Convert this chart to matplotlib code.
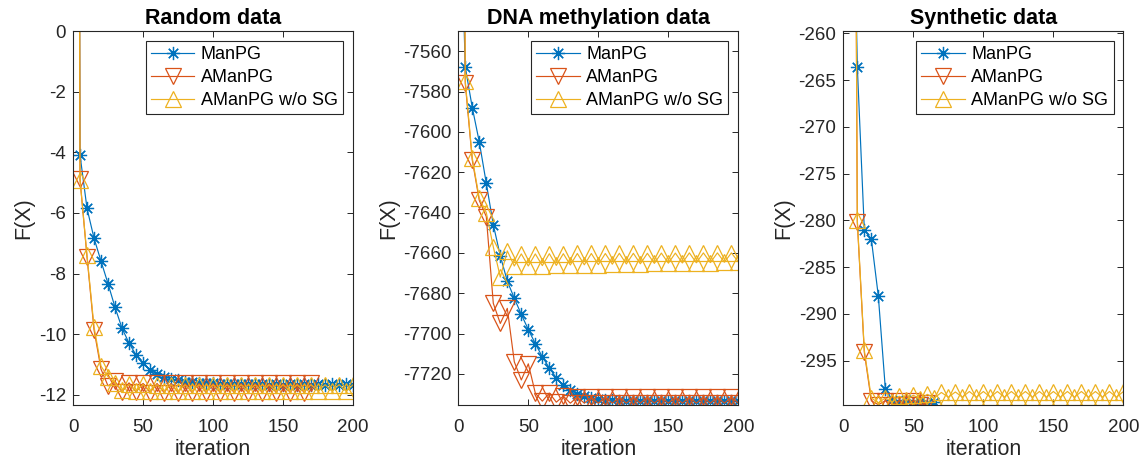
import matplotlib
matplotlib.use("Agg")
import matplotlib.pyplot as plt

# ── Data (one point every 5 iterations) ───────────────────────────────────────
ITER = [0, 5, 10, 15, 20, 25, 30, 35, 40, 45, 50, 55, 60, 65, 70, 75, 80, 85, 90, 95,
        100, 105, 110, 115, 120, 125, 130, 135, 140, 145, 150, 155, 160, 165, 170, 175,
        180, 185, 190, 195, 200]

SERIES = ["ManPG", "AManPG", "AManPG w/o SG"]
TITLES = ["Random data", "DNA methylation data", "Synthetic data"]

# Random data
rand_manpg = [80, -4.09, -5.85, -6.83, -7.59, -8.33, -9.11, -9.80, -10.29, -10.68,
              -10.95, -11.17, -11.31, -11.40, -11.47, -11.52, -11.56, -11.58, -11.60, -11.61,
              -11.62, -11.63, -11.63, -11.64, -11.64, -11.65, -11.64, -11.65, -11.66, -11.65,
              -11.66, -11.65, -11.66, -11.65, -11.66, -11.65, -11.66, -11.65, -11.66, -11.65,
              -11.66]
rand_amanpg = [100, -4.89, -7.45, -9.85, -11.15, -11.70, -11.55, -11.90, -11.60, -11.90,
               -11.62, -11.92, -11.62, -11.92, -11.62, -11.92, -11.62, -11.92, -11.62, -11.92,
               -11.62, -11.92, -11.62, -11.92, -11.62, -11.92, -11.62, -11.92, -11.62, -11.92,
               -11.62, -11.92, -11.62, -11.92, -11.62]
rand_nosg = [100, -4.90, -7.40, -9.75, -11.05, -11.40, -11.60, -11.85, -11.65, -11.87,
             -11.65, -11.87, -11.66, -11.87, -11.66, -11.88, -11.66, -11.88, -11.66, -11.88,
             -11.66, -11.88, -11.66, -11.88, -11.66, -11.88, -11.66, -11.88, -11.66, -11.88,
             -11.66, -11.88, -11.66, -11.88, -11.66, -11.88, -11.66, -11.88, -11.66, -11.88,
             -11.66]

# DNA methylation data
dna_manpg = [-7450, -7568, -7588, -7605, -7625.5, -7646, -7661.5, -7674, -7682.5, -7690.5,
             -7698, -7705, -7711.5, -7717, -7722, -7725.5, -7728, -7729.8, -7731, -7731.8,
             -7732.4, -7732.8, -7733.1, -7733.3, -7733.5, -7733.5, -7733.5, -7733.5, -7733.5, -7733.5,
             -7733.5, -7733.5, -7733.5, -7733.5, -7733.5, -7733.5, -7733.5, -7733.5, -7733.5, -7733.5,
             -7733.5]
dna_amanpg = [-7000, -7576, -7614, -7634, -7642, -7685, -7695, -7687.5, -7714, -7723,
              -7715, -7729.5, -7733.5, -7729.5, -7734, -7731, -7734.5, -7731.5, -7734.5, -7731.5,
              -7734.5, -7731.5, -7734.5, -7731.5, -7734.5, -7731.5, -7734.5, -7731.5, -7734.5, -7731.5,
              -7734.5, -7731.5, -7734.5, -7731.5, -7734.5, -7731.5, -7734.5, -7731.5, -7734.5, -7731.5,
              -7734.5]
dna_nosg = [-7000, -7575, -7613, -7633, -7640, -7657, -7672, -7659, -7666.5, -7660.5,
            -7666.5, -7660.5, -7666.3, -7660.4, -7666.2, -7660.4, -7666, -7660.3, -7665.9, -7660.3,
            -7665.8, -7660.3, -7665.6, -7660.2, -7665.5, -7660.2, -7665.4, -7660.2, -7665.2, -7660.1,
            -7665.1, -7660.1, -7665, -7660, -7664.9, -7660, -7664.8, -7660, -7664.6, -7660,
            -7664.5]

# Synthetic data (ManPG / AManPG stop early)
syn_manpg = [-150, -225, -263.6, -281.0, -282.0, -288.1, -298.0, -299.2, -299.5, -299.2,
             -299.5, -299.3, -299.5, -299.4]
syn_amanpg = [-100, -134, -280.2, -294.1, -299.3, -299.7, -299.3, -299.7, -299.3, -299.7,
              -299.3, -299.7, -299.5]
syn_nosg = [-100, -134, -280.0, -293.9, -299.0, -299.5, -299.0, -299.4, -298.8, -299.2,
            -298.7, -299.1, -298.6, -299.0, -298.4, -298.9, -298.35, -298.9, -298.3, -298.9,
            -298.3, -298.9, -298.3, -298.9, -298.3, -298.9, -298.3, -298.9, -298.3, -298.9,
            -298.3, -298.9, -298.3, -298.9, -298.3, -298.9, -298.3, -298.9, -298.3, -298.9,
            -298.3]

PANELS = [
    (rand_manpg, rand_amanpg, rand_nosg),
    (dna_manpg, dna_amanpg, dna_nosg),
    (syn_manpg, syn_amanpg, syn_nosg),
]
YLIMS = [(-12.33, 0), (-7735.4, -7550), (-299.74, -259.75)]
YTICKS = [
    [-12, -10, -8, -6, -4, -2, 0],
    [-7720, -7700, -7680, -7660, -7640, -7620, -7600, -7580, -7560],
    [-295, -290, -285, -280, -275, -270, -265, -260],
]
XTICKS = [0, 50, 100, 150, 200]

# ── Style (MATLAB look) ────────────────────────────────────────────────────────
plt.rcParams["font.family"] = ["Liberation Sans", "DejaVu Sans"]
plt.rcParams["axes.unicode_minus"] = False
COLORS = ["#0072BD", "#D95319", "#EDB120"]
MARKERS = [(8, 2, 0), "v", "^"]
MSIZES = [9.5, 11.5, 11.5]
AX_COLOR = "#262626"

fig = plt.figure(figsize=(11.48, 4.62), dpi=100)
LEFTS = [0.0636, 0.3992, 0.7346]
WIDTH = 0.2440

for i, (data, title) in enumerate(zip(PANELS, TITLES)):
    ax = fig.add_axes([LEFTS[i], 0.1234, WIDTH, 0.8095])
    for vals, name, c, m, ms in zip(data, SERIES, COLORS, MARKERS, MSIZES):
        ax.plot(ITER[:len(vals)], vals, color=c, lw=0.85, marker=m, ms=ms,
                mfc="none", mec=c, mew=0.9, label=name)

    ax.set_xlim(0, 200)
    ax.set_ylim(*YLIMS[i])
    ax.set_xticks(XTICKS)
    ax.set_yticks(YTICKS[i])
    ax.set_title(title, fontsize=15.5, fontweight="bold", pad=5)
    ax.set_xlabel("iteration", fontsize=15.5, color=AX_COLOR, labelpad=2)
    ax.set_ylabel("F(X)", fontsize=15.5, color=AX_COLOR, labelpad=3)
    ax.tick_params(direction="in", top=True, right=True, length=4.5, width=0.7,
                   labelsize=13.5, colors=AX_COLOR)
    ax.tick_params(axis="x", pad=10)
    ax.tick_params(axis="y", pad=5)
    for s in ax.spines.values():
        s.set_color(AX_COLOR)
        s.set_linewidth(0.8)

    leg = ax.legend(loc="upper right", fontsize=13, numpoints=1, handlelength=2.4,
                    handletextpad=0.35, labelspacing=0.32, borderpad=0.3,
                    borderaxespad=0.55, fancybox=False, framealpha=1)
    leg.get_frame().set_edgecolor(AX_COLOR)
    leg.get_frame().set_linewidth(0.8)

fig.savefig("out.png", dpi=100)
